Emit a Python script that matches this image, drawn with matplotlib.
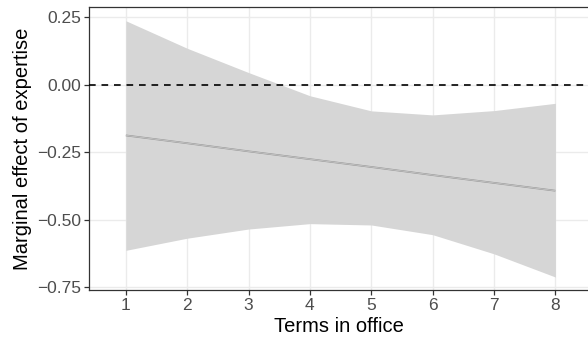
import matplotlib
matplotlib.use("Agg")
import matplotlib.pyplot as plt

terms = [1, 2, 3, 4, 5, 6, 7, 8]
effect = [-0.188, -0.217, -0.247, -0.276, -0.305, -0.335, -0.364, -0.393]
upper = [0.237, 0.135, 0.045, -0.041, -0.097, -0.112, -0.096, -0.069]
lower = [-0.614, -0.569, -0.535, -0.515, -0.520, -0.556, -0.627, -0.713]
yticks = [0.25, 0.00, -0.25, -0.50, -0.75]
ytick_labels = ["0.25", "0.00", "\u22120.25", "\u22120.50", "\u22120.75"]

plt.rcParams['font.family'] = ['Liberation Sans', 'DejaVu Sans']

fig = plt.figure(figsize=(5.88, 3.41), dpi=100)
ax = fig.add_axes([89/588, 51/341, 1 - 89/588 + 0.002, (290-7)/341])

ax.fill_between(terms, lower, upper, color='#d6d6d6', linewidth=0, zorder=2)
ax.plot(terms, effect, color='#9a9a9a', lw=1.3, zorder=3, solid_capstyle='butt')
ax.plot(terms, effect, color='#d9d9d9', lw=0.4, zorder=4, solid_capstyle='butt')
ax.axhline(0, color='black', lw=1.2, ls=(0, (4, 3.5)), zorder=5)

ax.set_xlim(0.4, 8.55)
ax.set_ylim(-0.761, 0.288)
ax.set_xticks(terms)
ax.set_yticks(yticks)
ax.set_yticklabels(ytick_labels)
ax.grid(True, color='#ebebeb', lw=1.0, zorder=0)
ax.set_axisbelow(True)
for s in ax.spines.values():
    s.set_color('#333333')
    s.set_linewidth(0.9)
ax.tick_params(axis='both', colors='#333333', length=3.5, width=0.9,
               labelcolor='#4d4d4d', labelsize=12.5, pad=2)
ax.set_xlabel("Terms in office", fontsize=14.5, color='black', labelpad=3)
ax.set_ylabel("Marginal effect of expertise", fontsize=14.5, color='black', labelpad=4)

fig.savefig("out.png", dpi=100)
